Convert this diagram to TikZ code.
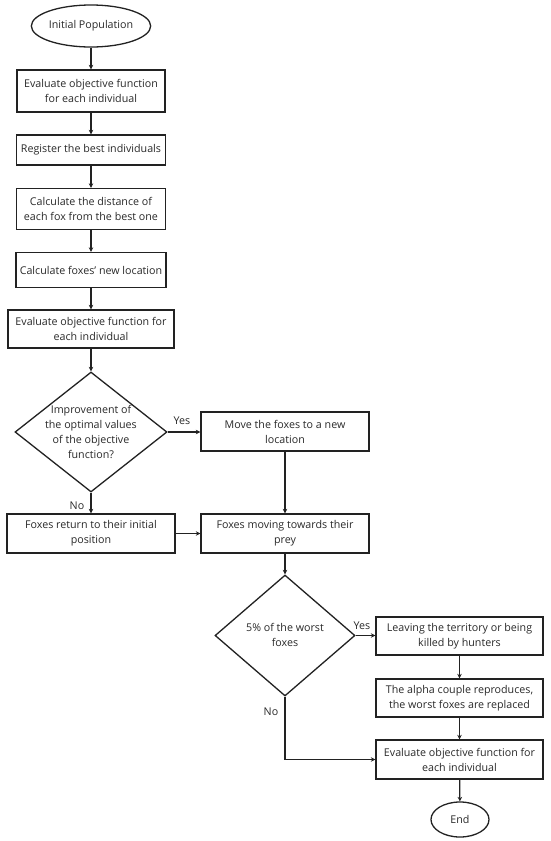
\documentclass[tikz,border=0pt]{standalone}
\usepackage{fontspec}
\setmainfont{Open Sans}
\usetikzlibrary{shapes.geometric,arrows.meta}
\definecolor{ln}{HTML}{222222}
\definecolor{tx}{HTML}{2a2a2a}
\begin{document}
\begin{tikzpicture}[x=1pt,y=-1pt,
  every node/.style={text=tx, font=\fontsize{10.7}{15}\selectfont},
  box/.style={draw=ln, line width=1.3pt, rectangle, align=center, inner sep=2pt},
  oval/.style={draw=ln, line width=1.3pt, ellipse, inner sep=0pt},
  dia/.style={draw=ln, line width=1.3pt, diamond, inner sep=0pt},
  arr/.style={draw=ln, line width=1.3pt, -{Stealth[length=4.5pt,width=4.5pt]}},
  lbl/.style={inner sep=0pt}]
\useasboundingbox (0,0) rectangle (550,841);
\fill[white] (0,0) rectangle (550,841);

\node[oval, minimum width=118pt, minimum height=42pt] (init) at (91,26) {Initial Population};
\node[box, minimum width=148pt, minimum height=42pt] (b1) at (91,91) {Evaluate objective function\\for each individual};
\node[box, minimum width=149pt, minimum height=30pt] (b2) at (91,150) {Register the best individuals};
\node[box, minimum width=149pt, minimum height=41pt] (b3) at (91,209) {Calculate the distance of\\each fox from the best one};
\node[box, minimum width=150pt, minimum height=35pt] (b4) at (91,270) {Calculate foxes' new location};
\node[box, minimum width=166pt, minimum height=38pt] (b5) at (91,329) {Evaluate objective function for\\each individual};

\node[dia, minimum width=152pt, minimum height=120pt] (d1) at (91,432) {};
\node[align=center, inner sep=0pt] (d1t) at (91,432) {Improvement of\\the optimal values\\of the objective\\function?};

\node[box, minimum width=168pt, minimum height=39pt] (move) at (285,431.5) {Move the foxes to a new\\location};
\node[box, minimum width=168pt, minimum height=39pt] (ret) at (91,533.5) {Foxes return to their initial\\position};
\node[box, minimum width=168pt, minimum height=39pt] (prey) at (285,533.5) {Foxes moving towards their\\prey};

\node[dia, minimum width=140pt, minimum height=121pt] (d2) at (285,635.5) {};
\node[align=center, inner sep=0pt] (d2t) at (285,635) {5\% of the worst\\foxes};

\node[box, minimum width=167pt, minimum height=38pt] (leave) at (459.5,636) {Leaving the territory or being\\killed by hunters};
\node[box, minimum width=167pt, minimum height=38pt] (alpha) at (459.5,698) {The alpha couple reproduces,\\the worst foxes are replaced};
\node[box, minimum width=167pt, minimum height=39pt] (eval2) at (459.5,759.5) {Evaluate objective function for\\each individual};
\node[oval, minimum width=58pt, minimum height=35pt] (end) at (460,819.5) {End};

\draw[arr] (init) -- (b1);
\draw[arr] (b1) -- (b2);
\draw[arr] (b2) -- (b3);
\draw[arr] (b3) -- (b4);
\draw[arr] (b4) -- (b5);
\draw[arr] (b5) -- (d1);
\draw[arr] (d1.east) -- (move.west |- d1.east);
\node[lbl] (yes1) at (182,421) {Yes};
\draw[arr] (d1.south) -- (ret.north);
\node[lbl] (no1) at (77,506) {No};
\draw[arr] (ret.east) -- (prey.west);
\draw[arr] (move.south) -- (prey.north);
\draw[arr] (prey.south) -- (d2.north);
\draw[arr] (d2.east) -- (leave.west |- d2.east);
\node[lbl] (yes2) at (362,626) {Yes};
\draw[arr] (leave) -- (alpha);
\draw[arr] (alpha) -- (eval2);
\draw[arr] (eval2) -- (end);
\draw[arr] (d2.south) |- (eval2.west);
\node[lbl] (no2) at (271,712) {No};
\end{tikzpicture}
\end{document}
